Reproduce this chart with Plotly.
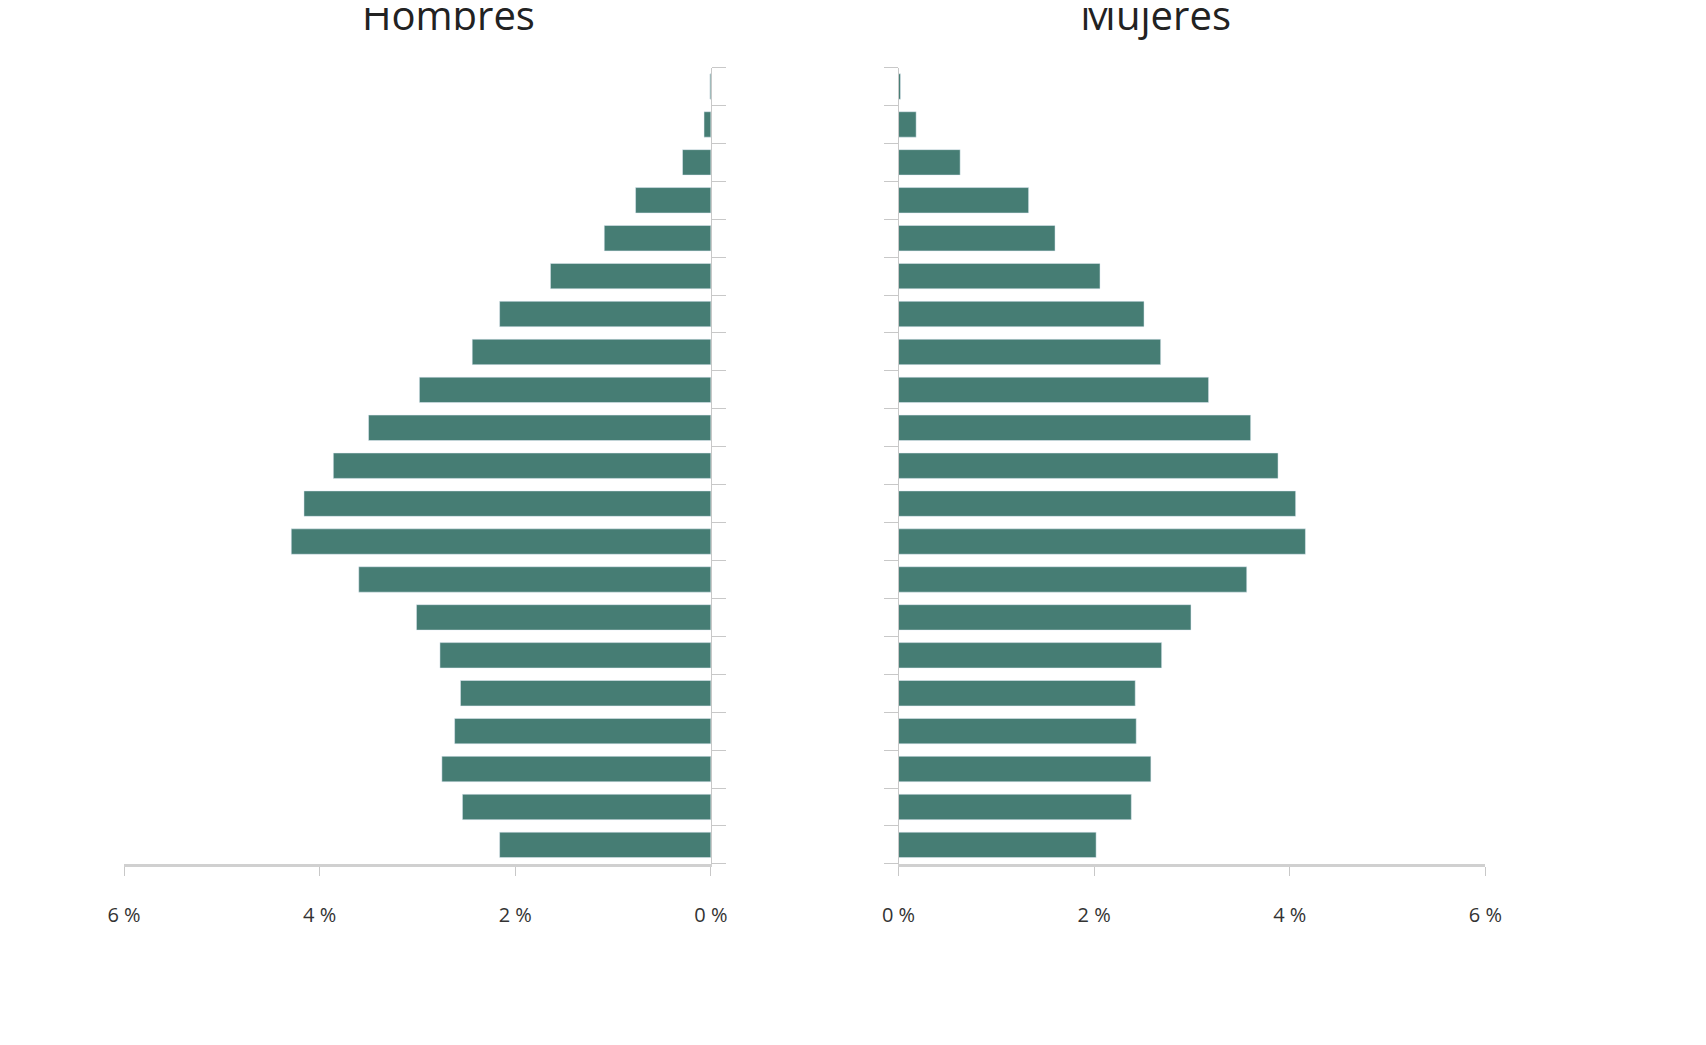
import plotly.graph_objects as go

# Grupos de edad, de abajo hacia arriba
edades = ['0-4', '5-9', '10-14', '15-19', '20-24', '25-29', '30-34', '35-39',
          '40-44', '45-49', '50-54', '55-59', '60-64', '65-69', '70-74',
          '75-79', '80-84', '85-89', '90-94', '95-99', '100 y mas']
hombres = [2.16, 2.54, 2.75, 2.62, 2.56, 2.77, 3.01, 3.60, 4.29, 4.16, 3.86,
           3.50, 2.98, 2.44, 2.16, 1.64, 1.09, 0.77, 0.29, 0.07, 0.01]
mujeres = [2.02, 2.38, 2.58, 2.43, 2.42, 2.69, 2.99, 3.56, 4.16, 4.06, 3.88,
           3.60, 3.17, 2.68, 2.51, 2.06, 1.60, 1.33, 0.63, 0.18, 0.02]
ticks_pct = [0, 2, 4, 6]
ticks_txt = ['0 %', '2 %', '4 %', '6 %']

color = '#467d74'
fuente = 'Open Sans'

fig = go.Figure()
fig.add_trace(go.Bar(y=list(range(len(edades))), x=hombres, orientation='h',
                     marker_color=color, xaxis='x', yaxis='y'))
fig.add_trace(go.Bar(y=list(range(len(edades))), x=mujeres, orientation='h',
                     marker_color=color, xaxis='x2', yaxis='y2'))

ydom = [0.181, 0.943]
xcommon = dict(tickvals=ticks_pct, ticktext=ticks_txt, showgrid=False, automargin=False,
               zeroline=False, showline=True, linecolor='#d0d0d0', linewidth=3,
               ticks='outside', ticklen=9, tickcolor='#c8c8c8',
               tickfont=dict(family=fuente, size=20, color='#333'),
               ticklabelstandoff=22)
ycommon = dict(range=[-0.5, len(edades) - 0.5], tickvals=[i - 0.5 for i in range(len(edades) + 1)],
               showticklabels=False, showgrid=False, zeroline=False, showline=True,
               automargin=False, linecolor='#c8c8c8', linewidth=1, ticks='outside',
               ticklen=14, tickcolor='#c8c8c8', domain=ydom)

fig.update_layout(
    width=1706, height=1045, margin=dict(l=0, r=0, t=0, b=0),
    paper_bgcolor='white', plot_bgcolor='white', showlegend=False, bargap=0.33,
    xaxis=dict(domain=[0.068, 0.412], range=[6, 0], **xcommon),
    xaxis2=dict(domain=[0.522, 0.866], range=[0, 6], anchor='y2', **xcommon),
    yaxis=dict(anchor='x', side='right', **ycommon),
    yaxis2=dict(anchor='x2', side='left', **ycommon),
)

# Etiquetas de edad en el centro (entre los dos paneles)
for i, e in enumerate(edades):
    if i % 2 == 0:
        fig.add_annotation(x=-0.95, xref='x', y=i, yref='y', text=e, showarrow=False,
                           font=dict(family=fuente, size=25, color='#222'))

fig.add_annotation(x=2.68, xref='x', y=0.994, yref='paper', text='Hombres', showarrow=False,
                   yanchor='middle', font=dict(family=fuente, size=40, color='#222'))
fig.add_annotation(x=-0.95, xref='x', y=0.994, yref='paper', text='Edad', showarrow=False,
                   yanchor='middle', font=dict(family=fuente, size=34, color='#222'))
fig.add_annotation(x=2.63, xref='x2', y=0.994, yref='paper', text='Mujeres', showarrow=False,
                   yanchor='middle', font=dict(family=fuente, size=40, color='#222'))

fig.add_annotation(x=6.16, xref='x', y=0.021, yref='paper', xanchor='left',
                   text='Fecha de referencia:', showarrow=False,
                   font=dict(family='Liberation Sans', size=39, color='#111'))
fig.add_annotation(x=-0.145, xref='x', y=0.021, yref='paper', xanchor='left',
                   text='<b>1 de enero de 2020</b>', showarrow=False,
                   font=dict(family='Liberation Sans', size=45, color='#111'))

fig.write_html('out.html')
